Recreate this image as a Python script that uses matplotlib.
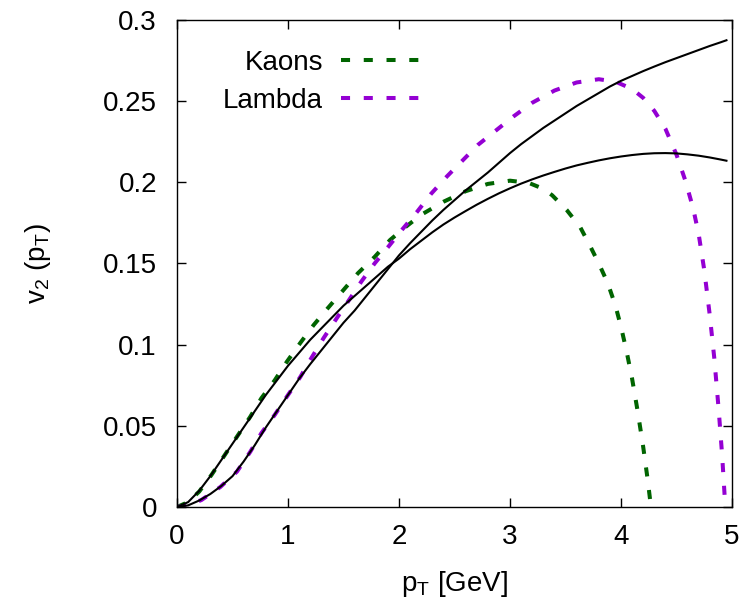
import matplotlib
matplotlib.use("Agg")
import matplotlib.pyplot as plt

# hydro curves (solid black)
pt_lambda_hydro = [0.0, 0.1, 0.2, 0.3, 0.4, 0.5, 0.6, 0.7, 0.8, 0.9, 1.0, 1.1, 1.2,
                   1.3, 1.4, 1.5, 1.6, 1.7, 1.8, 1.9, 2.0, 2.1, 2.2, 2.3, 2.4, 2.5,
                   2.6, 2.7, 2.8, 2.9, 3.0, 3.1, 3.2, 3.3, 3.4, 3.5, 3.6, 3.7, 3.8,
                   3.9, 4.0, 4.1, 4.2, 4.3, 4.4, 4.5, 4.6, 4.7, 4.8, 4.9, 4.95]
v2_lambda_hydro = [0.0, 0.001, 0.004, 0.008, 0.013, 0.019, 0.028, 0.038, 0.049, 0.059,
                   0.069, 0.079, 0.088, 0.0965, 0.105, 0.1135, 0.121, 0.1295, 0.138,
                   0.1465, 0.155, 0.1625, 0.1695, 0.1765, 0.183, 0.189, 0.195, 0.2005,
                   0.206, 0.212, 0.218, 0.2235, 0.2285, 0.2335, 0.238, 0.2425, 0.247,
                   0.251, 0.255, 0.259, 0.2625, 0.2655, 0.2685, 0.2713, 0.274, 0.2765,
                   0.279, 0.2815, 0.284, 0.2863, 0.2875]

pt_kaon_hydro = [0.0, 0.1, 0.2, 0.3, 0.4, 0.5, 0.6, 0.7, 0.8, 0.9, 1.0, 1.1, 1.2, 1.3,
                 1.4, 1.5, 1.6, 1.7, 1.8, 1.9, 2.0, 2.1, 2.2, 2.3, 2.4, 2.5, 2.6, 2.7,
                 2.8, 2.9, 3.0, 3.1, 3.2, 3.3, 3.4, 3.5, 3.6, 3.7, 3.8, 3.9, 4.0, 4.1,
                 4.2, 4.3, 4.4, 4.5, 4.6, 4.7, 4.8, 4.9, 4.95]
v2_kaon_hydro = [0.0, 0.003, 0.010, 0.019, 0.029, 0.039, 0.049, 0.059, 0.069, 0.078,
                 0.087, 0.095, 0.103, 0.110, 0.117, 0.124, 0.130, 0.136, 0.142, 0.148,
                 0.153, 0.1588, 0.164, 0.1692, 0.174, 0.1783, 0.1823, 0.1862, 0.1898,
                 0.1932, 0.1963, 0.1992, 0.2018, 0.2042, 0.2064, 0.2085, 0.2104,
                 0.212, 0.2135, 0.2148, 0.2159, 0.2168, 0.2175, 0.2179, 0.218, 0.2178,
                 0.2172, 0.2164, 0.2153, 0.214, 0.2133]

# dashed curves
pt_kaons = [0.0, 0.1, 0.2, 0.31, 0.43, 0.54, 0.66, 0.76, 0.88, 0.99, 1.11, 1.23, 1.36,
            1.5, 1.63, 1.78, 1.92, 2.05, 2.2, 2.4, 2.6, 2.8, 3.0, 3.17, 3.3, 3.38, 3.51,
            3.63, 3.72, 3.8, 3.88, 3.95, 4.0, 4.05, 4.1, 4.15, 4.2, 4.24, 4.27]
v2_kaons = [0.0, 0.003, 0.0095, 0.0197, 0.032, 0.0433, 0.0556, 0.067, 0.078, 0.0895,
            0.101, 0.112, 0.1226, 0.1337, 0.144, 0.154, 0.1645, 0.172, 0.180, 0.188,
            0.1945, 0.199, 0.201, 0.1996, 0.196, 0.192, 0.183, 0.1727, 0.161, 0.150,
            0.138, 0.124, 0.111, 0.096, 0.079, 0.059, 0.037, 0.017, 0.0]

pt_lambda = [0.0, 0.1, 0.22, 0.39, 0.54, 0.66, 0.76, 0.88, 0.99, 1.11, 1.21, 1.32, 1.44,
             1.55, 1.66, 1.78, 1.9, 2.03, 2.165, 2.29, 2.43, 2.71, 3.03, 3.2, 3.4, 3.6,
             3.8, 3.95, 4.1, 4.2, 4.3, 4.4, 4.5, 4.58, 4.65, 4.7, 4.75, 4.8, 4.84,
             4.88, 4.91, 4.94]
v2_lambda = [0.0, 0.001, 0.0043, 0.0123, 0.0218, 0.034, 0.0455, 0.0567, 0.068, 0.080,
             0.0917, 0.104, 0.1164, 0.1275, 0.1388, 0.150, 0.160, 0.171, 0.182, 0.193,
             0.2035, 0.223, 0.2405, 0.249, 0.2565, 0.2615, 0.2635, 0.262, 0.2575, 0.252,
             0.244, 0.233, 0.217, 0.201, 0.184, 0.168, 0.146, 0.118, 0.092, 0.060,
             0.033, 0.0]

labels = ["Kaons", "Lambda"]
xticks = [0, 1, 2, 3, 4, 5]
xtick_labels = ["0", "1", "2", "3", "4", "5"]
yticks = [0, 0.05, 0.1, 0.15, 0.2, 0.25, 0.3]
ytick_labels = ["0", "0.05", "0.1", "0.15", "0.2", "0.25", "0.3"]

plt.rcParams["font.family"] = ["Liberation Sans", "DejaVu Sans"]
plt.rcParams["font.size"] = 20
plt.rcParams["mathtext.fontset"] = "custom"
plt.rcParams["mathtext.rm"] = "Liberation Sans"

fig = plt.figure(figsize=(7.52, 6.05), dpi=100)
ax = fig.add_axes([0.2354, 0.162, 0.738, 0.805])

dash_lw = 2.9
dashes = (2.25, 3.4)
ax.plot(pt_kaons, v2_kaons, color="#006400", lw=dash_lw, dashes=dashes,
        dash_capstyle="butt", label=labels[0], zorder=2)
ax.plot(pt_lambda, v2_lambda, color="#9400D3", lw=dash_lw, dashes=dashes,
        dash_capstyle="butt", label=labels[1], zorder=2)
ax.plot(pt_kaon_hydro, v2_kaon_hydro, color="black", lw=1.5, zorder=3)
ax.plot(pt_lambda_hydro, v2_lambda_hydro, color="black", lw=1.5, zorder=3)

ax.set_xlim(0, 5)
ax.set_ylim(0, 0.3)
ax.set_xticks(xticks)
ax.set_xticklabels(xtick_labels)
ax.set_yticks(yticks)
ax.set_yticklabels(ytick_labels)
ax.tick_params(direction="in", length=6.5, width=1, top=True, right=True)
ax.tick_params(axis="x", pad=12)
ax.tick_params(axis="y", pad=14.5)
for s in ax.spines.values():
    s.set_linewidth(1)

ax.set_xlabel(r"p$_\mathregular{T}$ [GeV]", labelpad=14)
ax.set_ylabel(r"v$_\mathregular{2}$ (p$_\mathregular{T}$)", labelpad=36)

leg = ax.legend(loc="upper right", bbox_to_anchor=(0.441, 0.939), frameon=False,
                markerfirst=False, handlelength=2.9, handletextpad=0.65,
                labelspacing=0.45, borderpad=0, borderaxespad=0)
for t in leg.get_texts():
    t.set_ha("right")

fig.savefig("out.png", dpi=100)
